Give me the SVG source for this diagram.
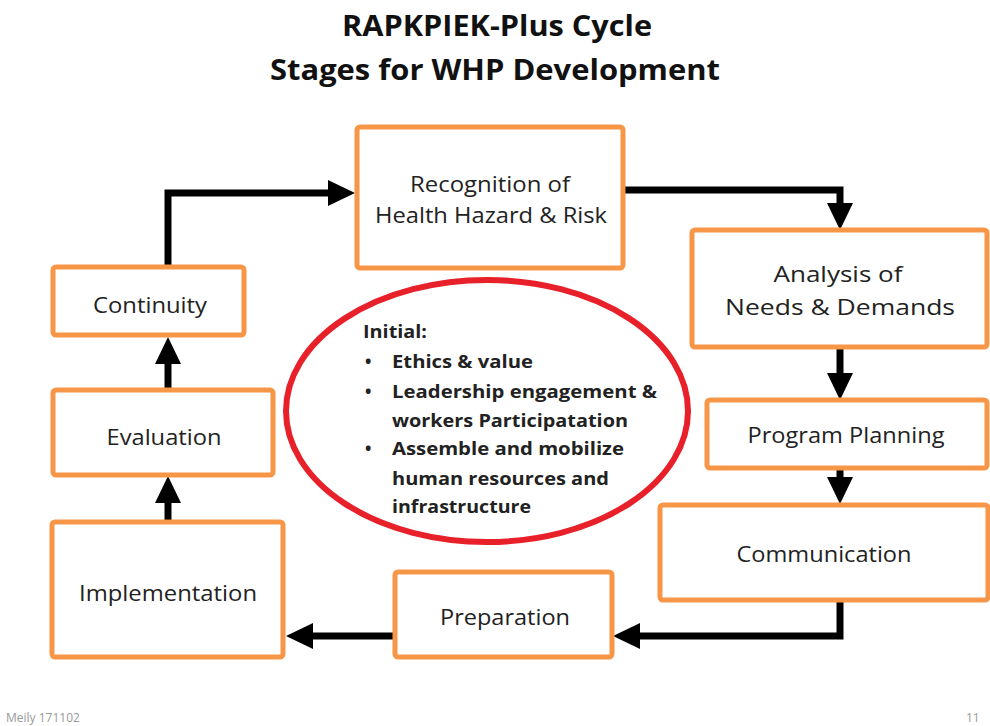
<svg xmlns="http://www.w3.org/2000/svg" width="990" height="726" viewBox="0 0 990 726">
<style>
.box{fill:#fff;stroke:#F79646;stroke-width:5}
.lbl{font-family:"Open Sans","Noto Sans","Liberation Sans",sans-serif;font-size:22px;fill:#222;text-anchor:middle}
.title{font-family:"Open Sans","Noto Sans","Liberation Sans",sans-serif;font-size:29px;font-weight:bold;fill:#111;text-anchor:middle}
.ini{font-family:"Open Sans","Noto Sans","Liberation Sans",sans-serif;font-size:17px;font-weight:bold;fill:#222}
.foot{font-family:"Open Sans","Noto Sans","Liberation Sans",sans-serif;font-size:12px;fill:#999}
.conn{fill:none;stroke:#000;stroke-width:7;stroke-linejoin:miter;marker-end:url(#ah)}
</style>
<defs>
<marker id="ah" markerUnits="userSpaceOnUse" markerWidth="27" markerHeight="26" viewBox="0 0 27 26" refX="0" refY="13" orient="auto">
<path d="M0,0 L27,13 L0,26 Z" fill="#000"/>
</marker>
</defs>
<rect width="990" height="726" fill="#fff"/>
<text class="title" x="497" y="36" textLength="310" lengthAdjust="spacingAndGlyphs">RAPKPIEK-Plus Cycle</text>
<text class="title" x="495" y="80" textLength="450" lengthAdjust="spacingAndGlyphs">Stages for WHP Development</text>

<g id="connectors">
<path class="conn" d="M168,267 V193 H328"/>
<path class="conn" d="M623,190 H840 V203"/>
<path class="conn" d="M840,347 V373"/>
<path class="conn" d="M840,468 V477"/>
<path class="conn" d="M840,600 V636 H640"/>
<path class="conn" d="M395,636 H313"/>
<path class="conn" d="M168,522 V503"/>
<path class="conn" d="M168,390 V364"/>
</g>

<g id="recognition">
<rect class="box" x="357" y="127" width="266" height="141" rx="3"/>
<text class="lbl" x="490" y="192" textLength="160" lengthAdjust="spacingAndGlyphs">Recognition of</text>
<text class="lbl" x="491" y="223" textLength="232" lengthAdjust="spacingAndGlyphs">Health Hazard &amp; Risk</text>
</g>
<g id="analysis">
<rect class="box" x="692" y="230" width="295" height="117" rx="3"/>
<text class="lbl" x="838" y="282" textLength="129" lengthAdjust="spacingAndGlyphs">Analysis of</text>
<text class="lbl" x="840" y="315" textLength="230" lengthAdjust="spacingAndGlyphs">Needs &amp; Demands</text>
</g>
<g id="planning">
<rect class="box" x="707" y="400" width="280" height="68" rx="3"/>
<text class="lbl" x="846" y="443" textLength="197" lengthAdjust="spacingAndGlyphs">Program Planning</text>
</g>
<g id="communication">
<rect class="box" x="660" y="505" width="328" height="95" rx="3"/>
<text class="lbl" x="824" y="562" textLength="175" lengthAdjust="spacingAndGlyphs">Communication</text>
</g>
<g id="preparation">
<rect class="box" x="395" y="572" width="217" height="85" rx="3"/>
<text class="lbl" x="505" y="625" textLength="130" lengthAdjust="spacingAndGlyphs">Preparation</text>
</g>
<g id="implementation">
<rect class="box" x="52" y="522" width="231" height="135" rx="3"/>
<text class="lbl" x="168" y="601" textLength="178" lengthAdjust="spacingAndGlyphs">Implementation</text>
</g>
<g id="evaluation">
<rect class="box" x="53" y="390" width="220" height="85" rx="3"/>
<text class="lbl" x="164" y="445" textLength="115" lengthAdjust="spacingAndGlyphs">Evaluation</text>
</g>
<g id="continuity">
<rect class="box" x="53" y="267" width="191" height="68" rx="3"/>
<text class="lbl" x="150" y="313" textLength="114" lengthAdjust="spacingAndGlyphs">Continuity</text>
</g>

<g id="initial">
<ellipse cx="487" cy="411" rx="201" ry="131" fill="#fff" stroke="#E8202A" stroke-width="6"/>
<text class="ini" x="363" y="338" textLength="64" lengthAdjust="spacingAndGlyphs">Initial:</text>
<text class="ini" x="365" y="368">•</text>
<text class="ini" x="392" y="368" textLength="141" lengthAdjust="spacingAndGlyphs">Ethics &amp; value</text>
<text class="ini" x="365" y="398">•</text>
<text class="ini" x="392" y="398" textLength="265" lengthAdjust="spacingAndGlyphs">Leadership engagement &amp;</text>
<text class="ini" x="392" y="427" textLength="236" lengthAdjust="spacingAndGlyphs">workers Participatation</text>
<text class="ini" x="365" y="455">•</text>
<text class="ini" x="392" y="455" textLength="232" lengthAdjust="spacingAndGlyphs">Assemble and mobilize</text>
<text class="ini" x="392" y="485" textLength="217" lengthAdjust="spacingAndGlyphs">human resources and</text>
<text class="ini" x="392" y="513" textLength="139" lengthAdjust="spacingAndGlyphs">infrastructure</text>
</g>

<text class="foot" x="6" y="722">Meily 171102</text>
<text class="foot" x="966" y="722">11</text>
</svg>
